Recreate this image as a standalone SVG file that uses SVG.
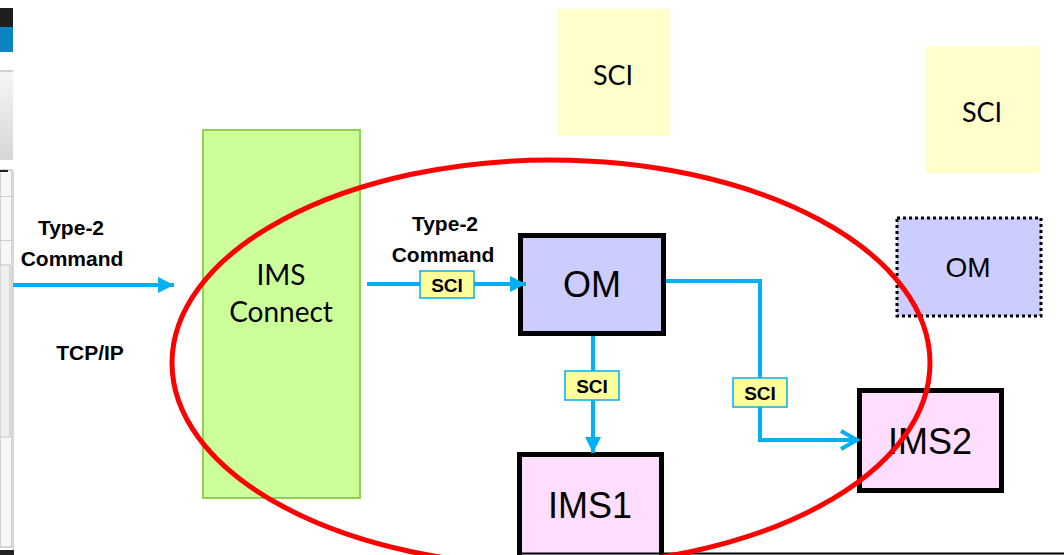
<svg xmlns="http://www.w3.org/2000/svg" width="1064" height="555" viewBox="0 0 1064 555">
<defs>
<style>
.lbl{font-family:"Liberation Sans",Arial,sans-serif;font-weight:bold;font-size:21px;fill:#000;text-anchor:middle}
.cal{font-family:Lato,"Liberation Sans",sans-serif;fill:#000;text-anchor:middle}
.ar{font-family:"Liberation Sans",Arial,sans-serif;fill:#000;text-anchor:middle}
.box{stroke:#000;stroke-width:5}
.conn{fill:none;stroke:#00b0f0;stroke-width:4}
.tag{fill:#ffff99;stroke:#00b0f0;stroke-width:1.5}
.tagt{font-family:"Liberation Sans",Arial,sans-serif;font-weight:bold;font-size:19px;fill:#000;text-anchor:middle}
</style>
<marker id="tri" markerUnits="userSpaceOnUse" markerWidth="18" markerHeight="18" refX="16" refY="8" orient="auto">
<path d="M0,0 L16,8 L0,16 Z" fill="#00b0f0"/>
</marker>
<marker id="chev" markerUnits="userSpaceOnUse" markerWidth="24" markerHeight="24" refX="19" refY="12" orient="auto">
<path d="M3,3 L19,12 L3,21" fill="none" stroke="#00b0f0" stroke-width="4"/>
</marker>
<linearGradient id="gg" x1="0" y1="0" x2="0" y2="1">
<stop offset="0" stop-color="#f6f6f6"/>
<stop offset="1" stop-color="#d6d6d6"/>
</linearGradient>
</defs>
<rect width="1064" height="555" fill="#fff"/>
<!-- left screenshot strip -->
<g id="ui-strip">
<rect x="0" y="8" width="13" height="19" fill="#1e1e1e"/>
<rect x="0" y="27" width="13" height="25" fill="#0b84c2"/>
<rect x="0" y="70" width="13" height="2" fill="#d0d0d0"/>
<rect x="0" y="72" width="13" height="88" fill="url(#gg)"/>
<rect x="0" y="170" width="12" height="377" fill="#f7f7f7" stroke="#b0b0b0" stroke-width="1"/>
<rect x="0" y="170" width="8" height="2" fill="#222"/>
<rect x="0" y="196" width="11" height="1" fill="#ccc"/>
<rect x="0" y="240" width="11" height="1" fill="#ccc"/>
<rect x="0" y="265" width="10" height="172" fill="#efefef" stroke="#c4c4c4" stroke-width="1"/>
<rect x="12" y="172" width="2" height="377" fill="#d8d8d8"/>
<rect x="0" y="550" width="14" height="5" fill="#222"/>
</g>
<!-- background SCI notes -->
<g id="sci-top">
<rect x="557" y="9" width="113" height="127" fill="#ffffcc"/>
<text class="cal" x="613" y="85" font-size="27">SCI</text>
</g>
<g id="sci-right">
<rect x="926" y="46" width="113" height="127" fill="#ffffcc"/>
<text class="cal" x="982" y="122" font-size="27">SCI</text>
</g>
<g id="om-standby">
<rect x="897" y="218" width="144" height="98" fill="#ccccff" stroke="#000" stroke-width="3" stroke-dasharray="3,3"/>
<text class="ar" x="968" y="277" font-size="28">OM</text>
</g>
<!-- IMS Connect -->
<g id="ims-connect">
<rect x="203" y="130" width="157" height="368" fill="#ccff99" stroke="#92d050" stroke-width="2"/>
<text class="cal" x="281" y="285" font-size="28">IMS</text>
<text class="cal" x="281" y="322" font-size="28">Connect</text>
</g>
<g id="om">
<rect class="box" x="520.5" y="235.5" width="143" height="98" fill="#ccccff"/>
<text class="ar" x="592" y="297" font-size="36">OM</text>
</g>
<g id="ims1">
<rect class="box" x="519.5" y="454.5" width="142" height="104" fill="#ffddff"/>
<text class="ar" x="590" y="518" font-size="36">IMS1</text>
</g>
<g id="ims2">
<rect class="box" x="859.5" y="390.5" width="142" height="100" fill="#ffddff"/>
<text class="ar" x="930" y="454" font-size="36">IMS2</text>
</g>
<line x1="517" y1="553.5" x2="1064" y2="553.5" stroke="#000" stroke-width="2"/>
<!-- connectors -->
<g id="connectors">
<line class="conn" x1="13" y1="285" x2="174" y2="285" marker-end="url(#tri)"/>
<line class="conn" x1="367" y1="284" x2="526" y2="284" marker-end="url(#tri)"/>
<line class="conn" x1="593" y1="336" x2="593" y2="453" marker-end="url(#tri)"/>
<polyline class="conn" points="666,281 760,281 760,440 857,440" marker-end="url(#chev)"/>
</g>
<!-- labels -->
<g id="labels">
<text class="lbl" x="71" y="235">Type-2</text>
<text class="lbl" x="72" y="266">Command</text>
<text class="lbl" x="90" y="360">TCP/IP</text>
<text class="lbl" x="445" y="231">Type-2</text>
<text class="lbl" x="443" y="262">Command</text>
</g>
<g id="sci-tags">
<rect class="tag" x="420" y="271" width="54" height="27"/>
<text class="tagt" x="447" y="292">SCI</text>
<rect class="tag" x="565" y="371" width="54" height="29"/>
<text class="tagt" x="592" y="393">SCI</text>
<rect class="tag" x="733" y="378" width="54" height="29"/>
<text class="tagt" x="760" y="400">SCI</text>
</g>
<ellipse id="highlight" cx="551" cy="363" rx="379" ry="203" fill="none" stroke="#ff0000" stroke-width="5"/>
</svg>
